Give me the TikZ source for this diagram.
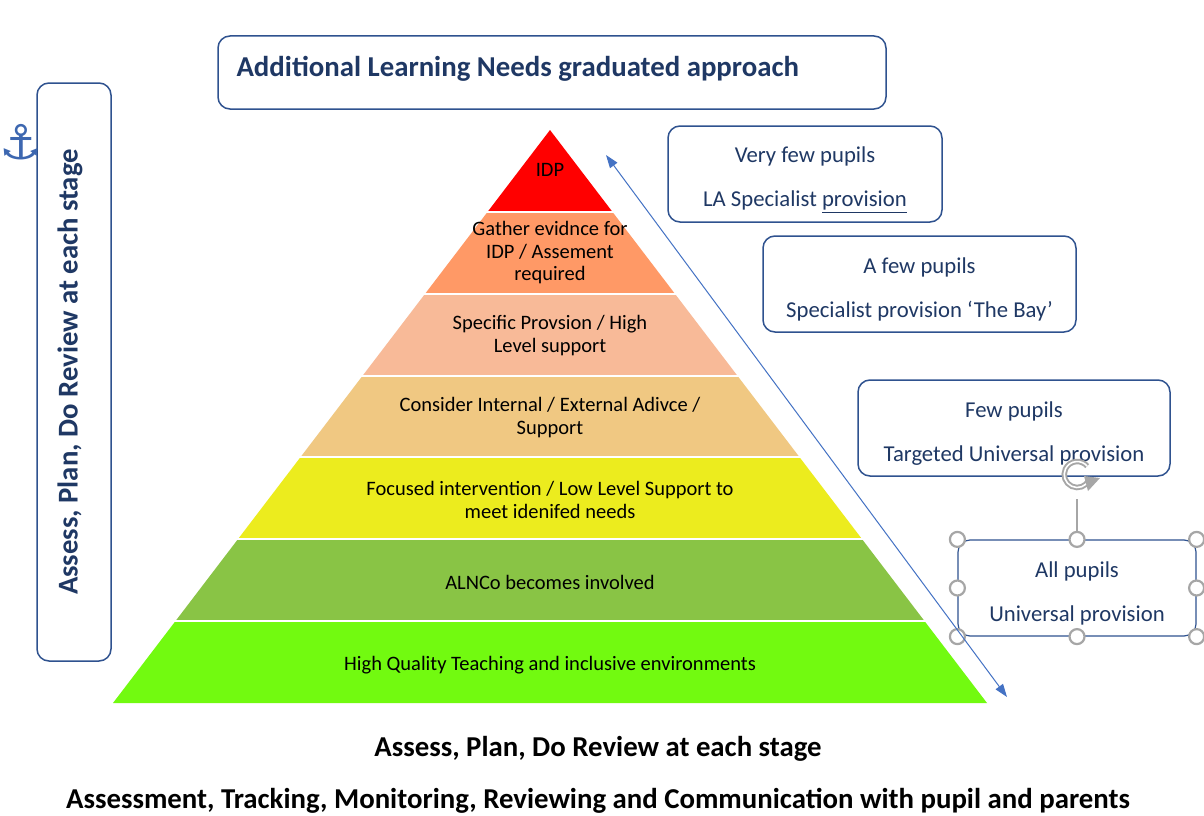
\documentclass[tikz,border=0pt]{standalone}
\usepackage{fontspec}
\setmainfont{Carlito}
\newfontfamily\symfont{DejaVu Sans}
\usetikzlibrary{arrows.meta}
\definecolor{cIDP}{RGB}{255,0,0}
\definecolor{cGather}{RGB}{255,153,102}
\definecolor{cSpec}{RGB}{248,186,152}
\definecolor{cCons}{RGB}{240,200,130}
\definecolor{cFoc}{RGB}{236,236,30}
\definecolor{cAln}{RGB}{137,196,69}
\definecolor{cHQ}{RGB}{114,250,16}
\definecolor{boxblue}{RGB}{47,82,143}
\definecolor{navy}{RGB}{31,56,100}
\definecolor{arrblue}{RGB}{68,114,196}
\definecolor{hgrey}{RGB}{166,166,166}
\tikzset{
  box/.style={draw=boxblue, line width=1.5pt, rounded corners=12pt, fill=white, text=navy},
  boxtext/.style={font=\fontsize{22.7}{26}\selectfont, align=center},
  ptext/.style={font=\fontsize{20.5}{22.5}\selectfont, align=center, text=black},
  handle/.style={draw=hgrey, line width=2.2pt, fill=white, circle, minimum size=15pt, inner sep=0pt},
  bottomtext/.style={font=\fontsize{28.8}{32}\selectfont\bfseries, text=black, inner sep=1pt},
}
\newcommand{\tstrut}{\rule{0pt}{27pt}}
\begin{document}
\begin{tikzpicture}[x=1pt,y=-1pt]
\useasboundingbox[fill=white] (0,0) rectangle (1204,816);
\coordinate (apex) at (550,130);
\coordinate (bl) at (113,703);
\coordinate (br) at (987,703);
\foreach \t/\b/\c in {130/210.4/cIDP, 213.4/292.2/cGather, 295.2/374.1/cSpec, 377.1/455.9/cCons, 458.9/537.8/cFoc, 540.8/619.6/cAln, 622.6/703/cHQ}{
  \begin{scope}
    \clip (0,\t) rectangle (1204,\b);
    \fill[\c] (apex) -- (br) -- (bl) -- cycle;
  \end{scope}
}
\node[ptext] (idp) at (550,170) {IDP};
\node[ptext] (gather) at (550,253) {Gather evidnce for\\IDP / Assement\\required};
\node[ptext] (spec) at (550,335.5) {Specific Provsion / High\\Level support};
\node[ptext] (cons) at (550,417.5) {Consider Internal / External Adivce /\\Support};
\node[ptext] (foc) at (550,500) {Focused intervention / Low Level Support to\\meet idenifed needs};
\node[ptext] (aln) at (550,582) {ALNCo becomes involved};
\node[ptext] (hq) at (550,665) {High Quality Teaching and inclusive environments};

% title
\node[box, minimum height=73pt, minimum width=668pt] (title) at (552,72.5) {};
\node[anchor=west, text=navy, font=\fontsize{28.8}{32}\selectfont\bfseries] (titletext) at (233,69) {Additional Learning Needs graduated approach};
% left vertical box
\node[box, rotate=90, minimum width=578pt, minimum height=74pt] (left) at (74,372) {};
\node[rotate=90, text=navy, font=\fontsize{28.7}{32}\selectfont\bfseries] (lefttext) at (70,372) {Assess, Plan, Do Review at each stage};
\node[text=arrblue!90!black, font=\symfont\fontsize{48}{52}\selectfont, inner sep=0pt] (anchor) at (21,142) {⚓};

% right boxes
\node[box, minimum width=274pt, minimum height=96pt, boxtext] (b1) at (805,174) {\tstrut Very few pupils\\[18pt]LA Specialist \underline{provision}};
\node[box, minimum width=313pt, minimum height=96pt, boxtext] (b2) at (919.5,284) {\tstrut A few pupils\\[18pt]Specialist provision ‘The Bay’};
\node[box, minimum width=312pt, minimum height=96pt, boxtext] (b3) at (1014,428) {\tstrut Few pupils\\[18pt]Targeted Universal provision};
\node[box, line width=1.2pt, minimum width=238pt, minimum height=96pt, boxtext] (b4) at (1077,588) {\tstrut All pupils\\[18pt]Universal provision};

% selection handles
\coordinate (rot) at (1077,485);
\draw[hgrey, line width=1.3pt] (1077,499) -- (b4.north);
\draw[hgrey, line width=5.5pt] (rot) ++(12,-5) arc[start angle=-25, end angle=-320, radius=13pt];
\draw[white, line width=1.6pt] (rot) ++(12,-5) arc[start angle=-25, end angle=-320, radius=13pt];
\fill[hgrey] (1088,491) -- (1100,478) -- (1084,476) -- cycle;
\foreach \a/\n in {north west/h1, north/h2, north east/h3, west/h4, east/h5, south west/h6, south/h7, south east/h8}{
  \node[handle] (\n) at (b4.\a) {};
}

% arrow
\coordinate (arrA) at (606,155);
\coordinate (arrB) at (1007,697);
\draw[arrblue, line width=1pt, {Triangle[length=13pt,width=9pt]}-{Triangle[length=13pt,width=9pt]}] (arrA) -- (arrB);

% bottom texts
\node[bottomtext] (apd) at (598,749) {Assess, Plan, Do Review at each stage};
\node[bottomtext] (atm) at (598,801) {Assessment, Tracking, Monitoring, Reviewing and Communication with pupil and parents};
\end{tikzpicture}
\end{document}
